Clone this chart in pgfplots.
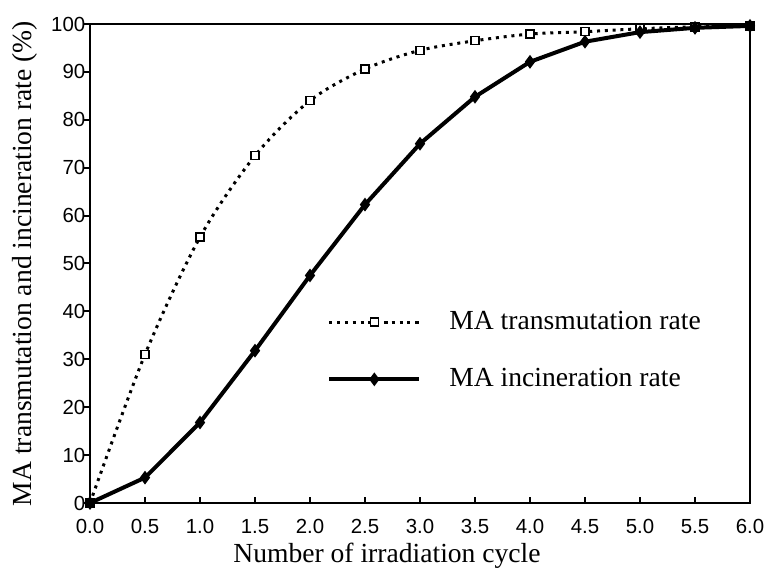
\documentclass[border=0pt]{standalone}
\usepackage{fontspec}
\setmainfont{Liberation Serif}
\newfontfamily\ticksans{Liberation Sans}
\usepackage{pgfplots}
\pgfplotsset{compat=1.18}

\begin{document}
\begin{tikzpicture}
\begin{axis}[
    scale only axis,
    width=330pt, height=239.5pt,
    xmin=0, xmax=6, ymin=0, ymax=100,
    xtick={0,0.5,...,6},
    ytick={0,10,...,100},
    xticklabel style={/pgf/number format/fixed, /pgf/number format/fixed zerofill,
        /pgf/number format/precision=1, anchor=base, yshift=-15pt},
    yticklabel style={anchor=east, inner sep=0pt, xshift=0.8pt},
    /pgf/number format/assume math mode=true,
    tick label style={font=\ticksans\fontsize{10.2}{12}\selectfont},
    axis line style={line width=1pt},
    every tick/.style={black, line width=1pt},
    xtick pos=bottom, ytick pos=left,
    xtick align=inside, ytick align=outside,
    major tick length=3pt,
    xlabel={Number of irradiation cycle},
    ylabel={MA transmutation and incineration rate (\%)},
    label style={font=\fontsize{13.8}{15}\selectfont},
    xlabel style={at={(axis description cs:0.45,0)}, anchor=base, yshift=-29.5pt},
    ylabel style={at={(axis description cs:-0.0879,0.5)}, anchor=base},
    clip=false,
    legend style={draw=none, fill=none, inner sep=0pt,
        at={(axis description cs:0.359,0.318)}, anchor=west,
        nodes={inner sep=0pt},
        font=\fontsize{13.8}{15}\selectfont, row sep=18pt,
        /tikz/every odd column/.append style={column sep=14pt}},
    legend cell align=left,
    legend image code/.code={
        \draw[mark repeat=2,mark phase=2] plot coordinates {(0pt,0pt)(22.5pt,0pt)(45pt,0pt)};},
]

\addplot[black, line width=1.5pt, dash pattern=on 1.5pt off 2.4pt, smooth, tension=0.5,
    mark=square*, mark size=2pt, mark options={solid, fill=white, line width=0.7pt}]
coordinates {
(0,0) (0.5,31) (1.0,55.5) (1.5,72.5) (2.0,84) (2.5,90.6) (3.0,94.5)
(3.5,96.5) (4.0,97.9) (4.5,98.4) (5.0,99.0) (5.5,99.4) (6.0,99.6)
};
\addlegendentry{MA transmutation rate}

\addplot[black, line width=2pt, mark=diamond*, mark size=1.8pt, mark options={solid}]
coordinates {
(0,0) (0.5,5.3) (1.0,16.8) (1.5,31.8) (2.0,47.5) (2.5,62.3) (3.0,75)
(3.5,84.8) (4.0,92.1) (4.5,96.3) (5.0,98.3) (5.5,99.2) (6.0,99.6)
};
\addlegendentry{MA incineration rate}

\coordinate (O) at (rel axis cs:0,0);
\end{axis}
\pgfresetboundingbox
\path (O) ++(-45pt,-32pt) rectangle ++(384.5pt,283.5pt);
\end{tikzpicture}
\end{document}
